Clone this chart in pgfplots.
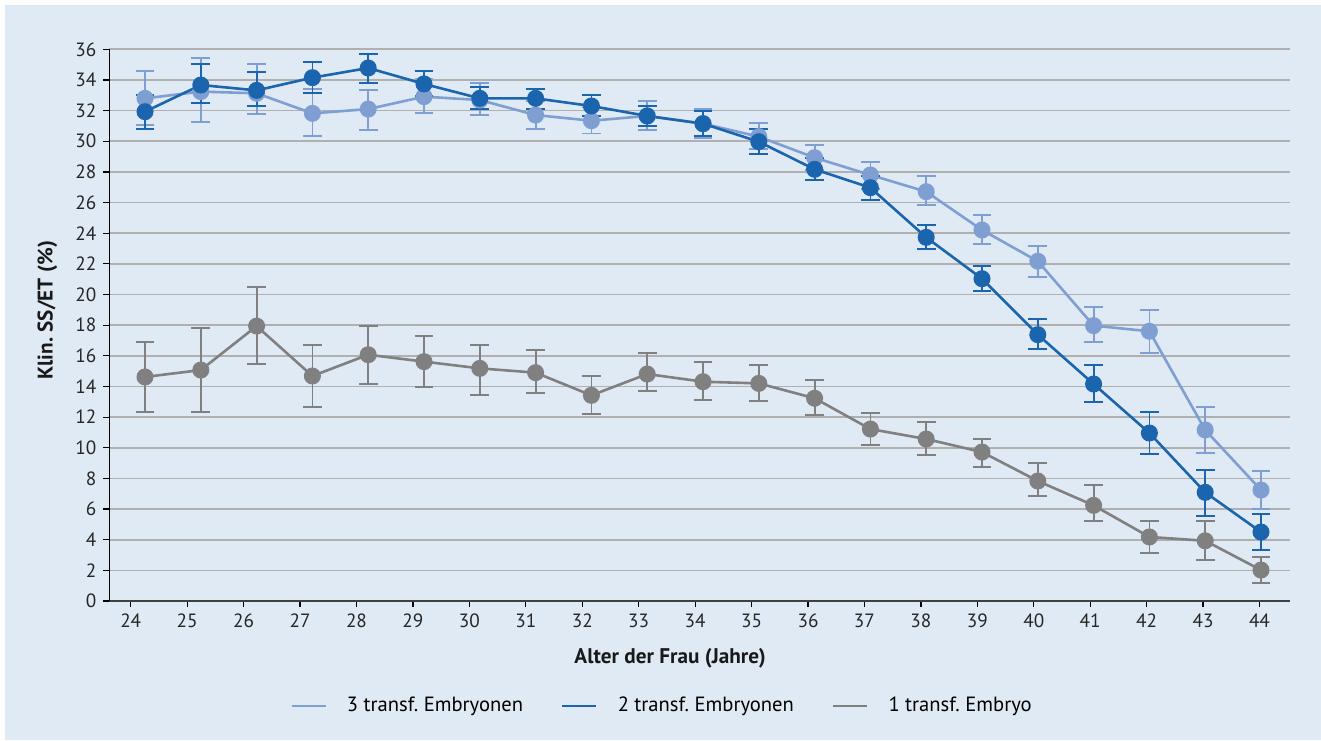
\documentclass[border=0pt]{standalone}
\usepackage{fontspec}
\setmainfont{PT Sans}
\usepackage{pgfplots}
\pgfplotsset{compat=1.18}
\usepackage{pgfplotstable}
\frenchspacing

\definecolor{panel}{HTML}{E0EAF4}
\definecolor{threeemb}{HTML}{7F9FD3}
\definecolor{twoemb}{HTML}{1A65AD}
\definecolor{oneemb}{HTML}{808080}
\definecolor{gridgray}{HTML}{B0B0B0}

% age, rate, lower and upper end of the error bar
\pgfplotstableread{
x  y     lo    hi
24 32.80 31.06 34.58
25 33.24 31.24 35.43
26 33.13 31.80 35.04
27 31.82 30.36 33.39
28 32.10 30.76 33.37
29 32.91 31.84 34.10
30 32.69 31.71 33.78
31 31.71 30.78 32.65
32 31.34 30.50 32.20
33 31.65 30.73 32.65
34 31.15 30.19 32.10
35 30.30 29.50 31.17
36 28.93 28.10 29.78
37 27.80 26.90 28.67
38 26.71 25.84 27.75
39 24.21 23.32 25.19
40 22.17 21.14 23.16
41 17.97 16.92 19.20
42 17.60 16.16 18.97
43 11.16 9.68  12.64
44 7.24  6.00  8.48
}\threetab

\pgfplotstableread{
x  y     lo    hi
24 31.93 30.80 33.00
25 33.67 32.52 35.04
26 33.32 32.28 34.50
27 34.15 33.13 35.17
28 34.78 33.80 35.67
29 33.74 32.97 34.60
30 32.80 32.12 33.56
31 32.80 32.10 33.43
32 32.30 31.65 33.02
33 31.65 31.02 32.32
34 31.15 30.36 31.97
35 29.97 29.19 30.82
36 28.17 27.45 28.89
37 26.97 26.15 27.73
38 23.73 22.95 24.56
39 21.03 20.23 21.84
40 17.38 16.42 18.40
41 14.16 12.99 15.40
42 10.96 9.59  12.35
43 7.09  5.55  8.53
44 4.50  3.33  5.68
}\twotab

\pgfplotstableread{
x  y     lo    hi
24 14.62 12.35 16.90
25 15.07 12.35 17.79
26 17.94 15.45 20.49
27 14.68 12.68 16.70
28 16.07 14.14 17.94
29 15.62 13.98 17.31
30 15.18 13.44 16.70
31 14.90 13.55 16.38
32 13.42 12.20 14.70
33 14.81 13.70 16.16
34 14.31 13.12 15.62
35 14.20 13.05 15.42
36 13.23 12.14 14.42
37 11.22 10.16 12.29
38 10.57 9.53  11.68
39 9.72  8.72  10.59
40 7.83  6.85  8.98
41 6.24  5.20  7.59
42 4.18  3.13  5.24
43 3.93  2.70  5.20
44 2.02  1.17  2.87
}\onetab

\pgfplotsset{
  errseries/.style={
    line width=1.3pt,
    mark=*,
    mark size=3.6pt,
    mark options={solid, draw=#1, fill=#1},
    color=#1,
    error bars/.cd,
      y dir=both, y explicit,
      error bar style={line width=0.9pt, color=#1},
      error mark options={rotate=90, line width=0.9pt, mark size=4.7pt, color=#1},
  },
}

\begin{document}
\begin{tikzpicture}
\useasboundingbox (0pt,0pt) rectangle (660.5pt,370pt);
\fill[white] (0pt,0pt) rectangle (660.5pt,370pt);
\fill[panel] (2.5pt,0pt) rectangle (660.5pt,367.5pt);
\begin{axis}[
  at={(54.65pt,69.5pt)}, anchor=south west,
  scale only axis,
  width=590.35pt, height=275.85pt,
  xmin=23.36, xmax=44.52,
  ymin=0, ymax=36,
  axis lines=left,
  axis line style={-},
  x axis line style={draw=black!75, line width=0.6pt},
  y axis line style={draw=black, line width=0.8pt},
  xtick={23.744,24.755,25.767,26.778,27.790,28.801,29.813,30.824,31.836,32.847,33.859,34.870,35.882,36.893,37.905,38.916,39.928,40.939,41.950,42.962,43.973},
  xticklabels={24,25,26,27,28,29,30,31,32,33,34,35,36,37,38,39,40,41,42,43,44},
  ytick={0,2,...,36},
  tick align=outside,
  major tick length=3pt,
  tick style={black, line width=0.6pt},
  ymajorgrids,
  grid style={gridgray, line width=0.85pt},
  /pgf/number format/assume math mode=true,
  ticklabel style={font=\fontsize{9.6}{11}\selectfont, text=black!85},
  xlabel={\textbf{Alter der Frau (Jahre)}},
  ylabel={\textbf{Klin. SS/ET (\%)}},
  label style={font=\fontsize{10.6}{12}\selectfont, text=black!90},
  xlabel style={at={(axis description cs:0.475,-0.103)}, anchor=center},
  ylabel style={at={(axis description cs:-0.0525,0.527)}, anchor=center, rotate=0},
  legend style={
    at={(axis description cs:0.469,-0.19)}, anchor=center,
    draw=none, fill=none,
    font=\fontsize{10.3}{12}\selectfont,
    legend columns=3,
    /tikz/every even column/.append style={column sep=17pt},
  },
  legend image code/.code={\draw[#1, line width=1.3pt] (0pt,0pt) -- (17pt,0pt); \path (25pt,0pt);},
  clip=false,
]
\addplot[errseries=threeemb] table[x=x, y=y,
  y error plus expr=\thisrow{hi}-\thisrow{y},
  y error minus expr=\thisrow{y}-\thisrow{lo}] {\threetab};
\addlegendentry{3 transf. Embryonen}
\addplot[errseries=twoemb] table[x=x, y=y,
  y error plus expr=\thisrow{hi}-\thisrow{y},
  y error minus expr=\thisrow{y}-\thisrow{lo}] {\twotab};
\addlegendentry{2 transf. Embryonen}
\addplot[errseries=oneemb] table[x=x, y=y,
  y error plus expr=\thisrow{hi}-\thisrow{y},
  y error minus expr=\thisrow{y}-\thisrow{lo}] {\onetab};
\addlegendentry{1 transf. Embryo}
\end{axis}
\end{tikzpicture}
\end{document}
